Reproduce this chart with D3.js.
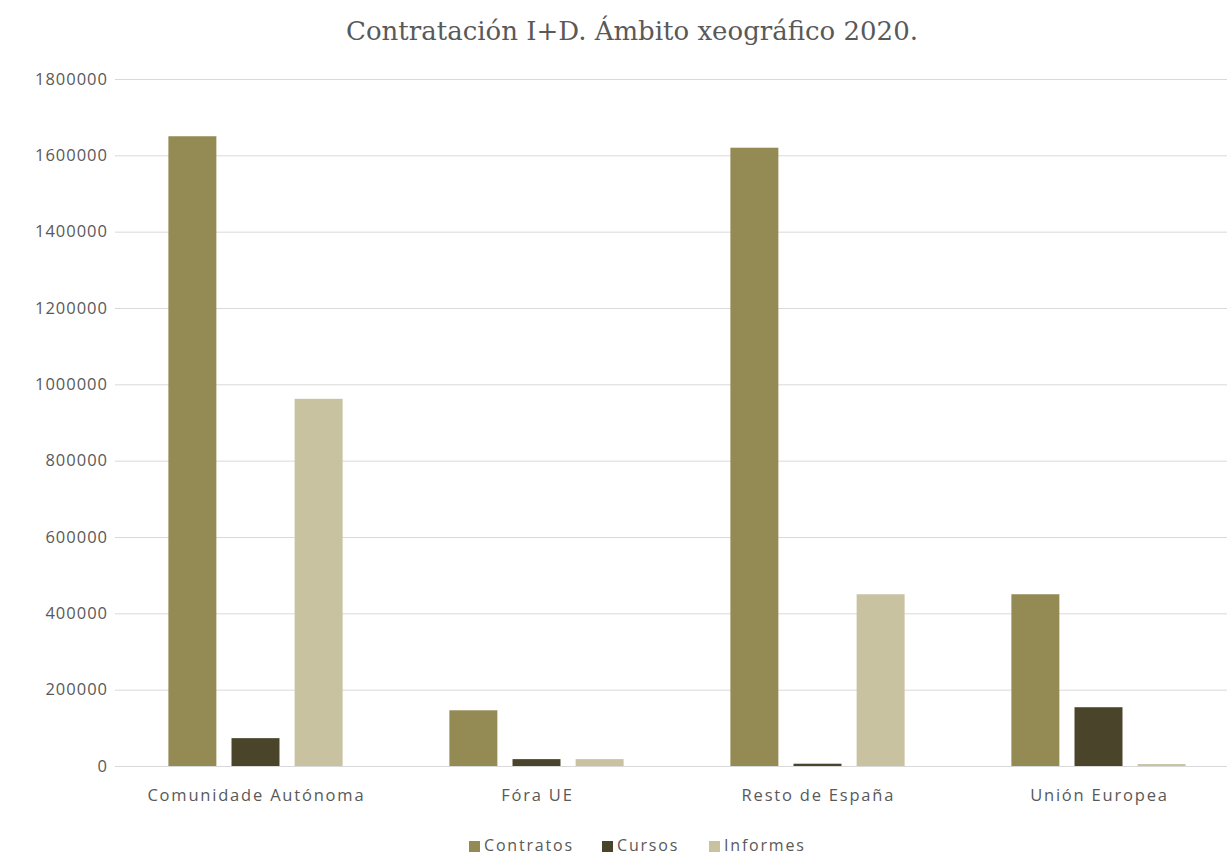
<!DOCTYPE html>
<html><head><meta charset="utf-8">
<script src="https://cdn.jsdelivr.net/npm/d3@7"></script>
<style>body{margin:0;background:#fff;overflow:hidden}</style>
</head><body><svg id="c" width="1227" height="855"></svg>
<script>
const categories = ["Comunidade Autónoma", "Fóra UE", "Resto de España", "Unión Europea"];
const seriesNames = ["Contratos", "Cursos", "Informes"];
const contratos = [1650000, 146000, 1620000, 450000];
const cursos = [73000, 18000, 6000, 154000];
const informes = [962000, 18000, 450000, 5000];
const yTicks = [0, 200000, 400000, 600000, 800000, 1000000, 1200000, 1400000, 1600000, 1800000];
const colors = ["#948a54", "#4a452a", "#c9c2a1"];
const title = "Contratación I+D. Ámbito xeográfico 2020.";

(function () {
const seriesValues = [contratos, cursos, informes];
const svg = d3.select("#c");
const pLeft = 115, pRight = 1239, pTop = 79, pBottom = 766;
const x0 = d3.scaleBand().domain(categories).range([pLeft, pRight]).paddingInner(0.38).paddingOuter(0.19);
const x1 = d3.scaleBand().domain(seriesNames).range([0, x0.bandwidth()]).paddingInner(0.24);
const y = d3.scaleLinear().domain([0, 1800000]).range([pBottom, pTop]);
const font = "'Open Sans', 'Noto Sans', sans-serif";

svg.append("text").attr("x", 632).attr("y", 40).attr("text-anchor", "middle")
  .attr("font-family", "'DejaVu Serif', serif").attr("font-size", 26)
  .attr("fill", "#595959").text(title);

const yAxis = svg.append("g").attr("transform", `translate(${pLeft},0)`)
  .call(d3.axisLeft(y).tickValues(yTicks).tickSize(-(pRight - pLeft)).tickFormat(d3.format("d")).tickPadding(7));
yAxis.select(".domain").remove();
yAxis.selectAll("line").attr("stroke", "#d9d9d9");
yAxis.selectAll("text").attr("font-family", font).attr("font-size", 16.5).attr("letter-spacing", 1).attr("fill", "#595959");

const g = svg.append("g");
categories.forEach((c, i) => {
  seriesNames.forEach((s, j) => {
    const v = seriesValues[j][i];
    g.append("rect").attr("x", x0(c) + x1(s)).attr("y", y(v))
      .attr("width", x1.bandwidth()).attr("height", y(0) - y(v)).attr("fill", colors[j]);
  });
});

const xAxis = svg.append("g").attr("transform", `translate(0,${pBottom})`)
  .call(d3.axisBottom(x0).tickSize(0).tickPadding(23));
xAxis.select(".domain").attr("stroke", "#d9d9d9");
xAxis.selectAll("text").attr("font-family", font).attr("font-size", 16.5).attr("letter-spacing", 1.8)
  .attr("dx", "0.9px").attr("fill", "#595959");

const legendX = [469, 602, 709];
const lg = svg.append("g");
seriesNames.forEach((s, j) => {
  lg.append("rect").attr("x", legendX[j]).attr("y", 841).attr("width", 11).attr("height", 11).attr("fill", colors[j]);
  lg.append("text").attr("x", legendX[j] + 15).attr("y", 851).attr("font-family", font).attr("font-size", 16)
    .attr("letter-spacing", 1.8).attr("fill", "#595959").text(s);
});
})();
</script></body></html>
